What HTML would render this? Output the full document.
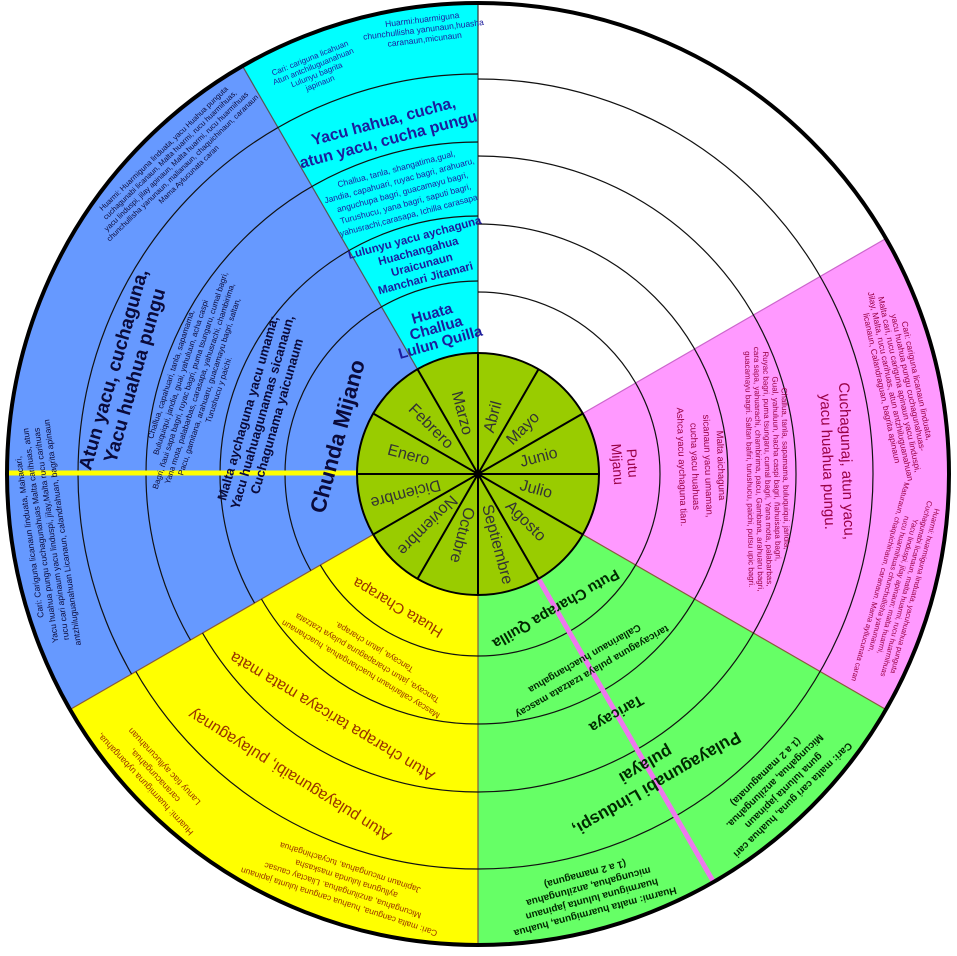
<!DOCTYPE html>
<html><head><meta charset="utf-8"><style>
html,body{margin:0;padding:0;background:#fff;}
svg{display:block;font-family:"Liberation Sans",sans-serif;}
</style></head><body>
<svg width="957" height="956" viewBox="0 0 957 956" xmlns="http://www.w3.org/2000/svg">
<defs>
<clipPath id="cl"><path d="M478 474 L70.1 709.5 A471 471 0 0 1 478 3 Z"/></clipPath>
<clipPath id="cr"><path d="M478 474 L478 3 A471 471 0 1 1 70.1 709.5 Z"/></clipPath>
</defs>
<path d="M478 474 L478 3 A471 471 0 0 1 885.9 238.5 Z" fill="#ffffff"/>
<path d="M478 474 L885.9 238.5 A471 471 0 0 1 885.9 709.5 Z" fill="#ff99ff"/>
<path d="M478 474 L885.9 709.5 A471 471 0 0 1 478 945 Z" fill="#66ff66"/>
<path d="M478 474 L478 945 A471 471 0 0 1 70.1 709.5 Z" fill="#ffff00"/>
<path d="M478 474 L70.1 709.5 A471 471 0 0 1 242.5 66.1 Z" fill="#6699ff"/>
<path d="M478 474 L242.5 66.1 A471 471 0 0 1 478 3 Z" fill="#00ffff"/>
<g stroke="#8a5a3a" stroke-width="1.2">
<line x1="478" y1="474" x2="478" y2="3" stroke="#333"/>
<line x1="478" y1="474" x2="885.9" y2="238.5" stroke="#cc66cc"/>
<line x1="478" y1="474" x2="885.9" y2="709.5"/>
<line x1="478" y1="474" x2="478" y2="945"/>
<line x1="478" y1="474" x2="70.1" y2="709.5"/>
<line x1="478" y1="474" x2="242.5" y2="66.1" stroke="#555"/>
</g>
<g fill="none" stroke="#111" stroke-width="1.2" clip-path="url(#cl)">
<circle cx="478" cy="474" r="193"/><circle cx="478" cy="474" r="258"/><circle cx="478" cy="474" r="332"/><circle cx="478" cy="474" r="400"/>
</g>
<g fill="none" stroke="#111" stroke-width="1.2" clip-path="url(#cr)">
<circle cx="478" cy="474" r="182"/><circle cx="478" cy="474" r="250"/><circle cx="478" cy="474" r="318"/><circle cx="478" cy="474" r="395"/>
</g>
<line x1="8" y1="473" x2="358" y2="473" stroke="#ffff00" stroke-width="5"/>
<line x1="538.5" y1="578.8" x2="713.5" y2="881.9" stroke="#ee77ee" stroke-width="5"/>
<circle cx="478" cy="474" r="471" fill="none" stroke="#000" stroke-width="4"/>

<!-- CYAN -->
<g fill="#1c1c9c" text-anchor="middle">
<g transform="rotate(-16 478 474)" font-weight="bold" font-size="15">
<text x="478" y="312">Huata</text><text x="478" y="327">Challua</text><text x="478" y="342">Lulun Quilla</text></g>
<g transform="rotate(-15 478 474)" font-weight="bold" font-size="11.5">
<text x="478" y="233">Lulunyu yacu aychaguna</text><text x="478" y="247">Huachangahua</text><text x="478" y="261">Uraicunaun</text><text x="478" y="275">Manchari Jitamari</text></g>
<g transform="rotate(-15 478 474)" font-size="8.5">
<text x="478" y="161">Challua, tanla, shangatima,gual,</text><text x="478" y="173">Jandia, capahuari, ruyac bagri, arahuaru,</text><text x="478" y="185">anguchupa bagri, guacamayu bagri,</text><text x="478" y="197">Turushucu, yana bagri, saputi bagri,</text><text x="478" y="209">yahusrachi,carasapa, Ichilla carasapa</text></g>
<g transform="rotate(-15 478 474)" font-weight="bold" font-size="16">
<text x="478" y="114">Yacu hahua, cucha,</text><text x="478" y="133">atun yacu, cucha pungu</text></g>
<g transform="rotate(-22 478 474)" font-size="8">
<text x="478" y="28">Cari: cariguna licahuan</text><text x="478" y="37">Atun antchiluguanahuan</text><text x="478" y="46">Lulunyu bagrita</text><text x="478" y="55">japinaun</text></g>
<g transform="rotate(-7 478 474)" font-size="8.5">
<text x="478" y="19">Huarmi:huarmiguna</text><text x="478" y="29">chunchullisha yanunaun,huasha</text><text x="478" y="39">caranaun,micunaun</text></g>
</g>

<!-- BLUE -->
<g fill="#0a0a3a" text-anchor="middle">
<g transform="rotate(-75 478 474)" font-weight="bold" font-size="22"><text x="478" y="336">Chunda Mijano</text></g>
<g transform="rotate(-74 478 474)" font-weight="bold" font-size="13">
<text x="478" y="239">Malta aychaguna yacu umama;</text><text x="478" y="254">Yacu huahuagunamas sicanaun,</text><text x="478" y="269">Cuchagunama yaicunaum</text></g>
<g transform="rotate(-72 478 474)" font-size="8">
<text x="478" y="154">Challua, capahuari, tanla, sapamama,</text><text x="478" y="164">Buluquiqui, jandia, guai, yahuluun, acha caspi</text><text x="478" y="174">Bagri, ñaui sapa bagri, ruyac bagri, puma tsungaru, cumal bagri,</text><text x="478" y="184">Yana mota, palabarbas, carasapa, yahusrachi, chambirima,</text><text x="478" y="194">Pacu, gamitana, arahuaru, guacamayu bagri, saltan,</text><text x="478" y="204">Turushucu y paichi.</text></g>
<g transform="rotate(-74 478 474)" font-weight="bold" font-size="19">
<text x="478" y="101">Atun yacu, cuchaguna,</text><text x="478" y="123">Yacu huahua pungu</text></g>
<g transform="rotate(-44 478 474)" font-size="7.5">
<text x="478" y="24">Huarmi: Huarmiguna linduata, yacu Huahua punguta</text><text x="478" y="33">cuchagunabi licanaun, Malta huarmi, rucu huarmihuas,</text><text x="478" y="42">yacu linduspi, jilay apinaun, Malta huarmi, rucu huarmihuas</text><text x="478" y="51">chunchullisha yanunaun, malianaun, chaquichinaun, caranaun</text><text x="478" y="60">Mama Aylucunata caran</text></g>
<g transform="rotate(-98 478 474)" font-size="8.5">
<text x="478" y="24">Cari: Cariguna licanaun linduata, Mahacari,</text><text x="478" y="35">Yacu huahua pungu cuchagunahuas Malta carihuas, atun</text><text x="478" y="46">rucu cari apinaum yacu linduspi, jilay,Malta rucu carihuas</text><text x="478" y="57">antzhiluguanahuan Licanaun, calandrahuan, bagrita apinaun</text></g>
</g>

<!-- PINK -->
<g fill="#990044" text-anchor="middle">
<g transform="rotate(86 478 474)" font-size="14"><text x="478" y="324">Putu</text><text x="478" y="339">Mijanu</text></g>
<g transform="rotate(88 478 474)" font-size="9.5">
<text x="478" y="234">Malta aichaguna</text><text x="478" y="247">sicanaun yacu umaman,</text><text x="478" y="260">cucha yacu huahuas</text><text x="478" y="273">Ashca yacu aychaguna tian.</text></g>
<g transform="rotate(89 478 474)" font-size="8">
<text x="478" y="169">Challua, tanla, sapamama, buluquiqui, jandia,</text><text x="478" y="178">Gual, yahuluun, hacha caspi bagri, ñahuisapa bagri,</text><text x="478" y="187">Ruyac bagri, puma tsungaru, cumal bagri, Yana mota, palabarbas,</text><text x="478" y="196">cara sapa, yahuarachi, chambirima, pacu, Gambana, arahuaru bagri,</text><text x="478" y="205">guacamayu bagri. Saltan bafiri, turushucu, paichi, putsu upic bagri.</text></g>
<g transform="rotate(88 478 474)" font-size="15">
<text x="478" y="110">Cuchagunaj, atun yacu,</text><text x="478" y="129">yacu huahua pungu.</text></g>
<g transform="rotate(78 478 474)" font-size="8.5">
<text x="478" y="28">Cari: cariguna licanaun linduata,</text><text x="478" y="37">yacu huahua pungu cuchagunahuas-</text><text x="478" y="46">Malta cari, rucu cariguna apinaun yacu linduspi,</text><text x="478" y="55">Jilay, Malta, rucu carihuas, atun antzhiluguanahuan</text><text x="478" y="64">licanaun, Calandraguan, bagrita apinaun</text></g>
<g transform="rotate(105 478 474)" font-size="7.5">
<text x="478" y="24">Huarmi: huarmiguna linduata, yacuhuahua punguta</text><text x="478" y="33">Cuchagunabi licanaun, malta huarmi, rucu huarmihuas</text><text x="478" y="42">Yacu linduspi, jilay apinaun; malta huarmi,</text><text x="478" y="51">rucu huarmihuas chunchullisha yanunaun,</text><text x="478" y="60">Maturaun, chaquichinaun, caranaun. Mama ayllucunata caran</text></g>
</g>

<!-- GREEN -->
<g fill="#002a00" text-anchor="middle">
<g transform="rotate(150 478 474)" font-weight="bold" font-size="15"><text x="478" y="323">Putu Charapa Quilla</text></g>
<g transform="rotate(150 478 474)" font-weight="bold" font-size="10">
<text x="478" y="249">taricayaguna pulaya tzatzata mascay</text><text x="478" y="264">Callarinaun huachangahua</text></g>
<g transform="rotate(150 478 474)" font-weight="bold" font-size="15"><text x="478" y="202">Taricaya</text></g>
<g transform="rotate(150 478 474)" font-weight="bold" font-size="17">
<text x="478" y="122">Pulayagunabi Linduspi,</text><text x="478" y="144">pulayai</text></g>
<g transform="rotate(165 478 474)" font-weight="bold" font-size="10">
<text x="478" y="24">Huarmi: malta huarmiguna, huahua</text><text x="478" y="37">huarmiguna lulunta japinaun</text><text x="478" y="50">micungahua, anzilungahua</text><text x="478" y="63">(1 a 2 mamaguna)</text></g>
<g transform="rotate(136 478 474)" font-weight="bold" font-size="10">
<text x="478" y="24">Cari: malta cari guna, huahua cari</text><text x="478" y="37">guna lulunta japinaun</text><text x="478" y="50">Micungahua, anzilungahua.</text><text x="478" y="63">(1 a 2 mamagunata)</text></g>
</g>

<!-- YELLOW -->
<g fill="#993300" text-anchor="middle">
<g transform="rotate(211 478 474)" font-size="15"><text x="478" y="323">Huata Charapa</text></g>
<g transform="rotate(211 478 474)" font-size="8.5">
<text x="478" y="249">Mascay callarinaun huachangahua, huachanaun</text><text x="478" y="262">Tancaya, jatun charapaguna pulaya tzatzata</text><text x="478" y="275">Tancaya, jatun charapa.</text></g>
<g transform="rotate(211 478 474)" font-size="16"><text x="478" y="196">Atun charapa taricaya mata mata</text></g>
<g transform="rotate(212 478 474)" font-size="16"><text x="478" y="124">Atun pulayagunaibi, pulayagunay</text></g>
<g transform="rotate(198 478 474)" font-size="8.5">
<text x="478" y="27">Cari: malta canguna, huahua canguna lulunta japinaun</text><text x="478" y="39">Micungahua, anzilungahua. Lliactay causac</text><text x="478" y="51">aylluguna lulunda maskasha</text><text x="478" y="63">Japinaun micungahua, tucyachingahua</text></g>
<g transform="rotate(227 478 474)" font-size="9">
<text x="478" y="22">Huarmi: huarmiguna uybangahua,</text><text x="478" y="35">caranacungahua,</text><text x="478" y="48">Lanuy tiac ayllucunahuan</text></g>
</g>

<!-- MONTHS -->
<circle cx="478" cy="474" r="121" fill="#99cc00" stroke="#000" stroke-width="2"/>
<g stroke="#000" stroke-width="2">
<line x1="478" y1="353" x2="478" y2="595"/>
<line x1="357" y1="474" x2="599" y2="474"/>
<line x1="538.5" y1="369.2" x2="417.5" y2="578.8"/>
<line x1="582.8" y1="413.5" x2="373.2" y2="534.5"/>
<line x1="582.8" y1="534.5" x2="373.2" y2="413.5"/>
<line x1="538.5" y1="578.8" x2="417.5" y2="369.2"/>
</g>
<circle cx="478" cy="474" r="4" fill="#000"/>
<g fill="#333" font-size="16" text-anchor="middle" dominant-baseline="central">
<text transform="translate(478 474) rotate(-75) translate(59 0)">Abril</text>
<text transform="translate(478 474) rotate(-45) translate(64 0)">Mayo</text>
<text transform="translate(478 474) rotate(-15) translate(63 0)">Junio</text>
<text transform="translate(478 474) rotate(15) translate(60 0)">Julio</text>
<text transform="translate(478 474) rotate(45) translate(67 0)">Agosto</text>
<text transform="translate(478 474) rotate(75) translate(73 0)">Septiembre</text>
<text transform="translate(478 474) rotate(105) translate(63 0)">Octubre</text>
<text transform="translate(478 474) rotate(135) translate(72 0)">Noviembre</text>
<text transform="translate(478 474) rotate(165) translate(75 0)">Diciembre</text>
<text transform="translate(478 474) rotate(15) translate(-72 0)">Enero</text>
<text transform="translate(478 474) rotate(45) translate(-67 0)">Febrero</text>
<text transform="translate(478 474) rotate(75) translate(-63 0)">Marzo</text>
</g>
</svg>
</body></html>
